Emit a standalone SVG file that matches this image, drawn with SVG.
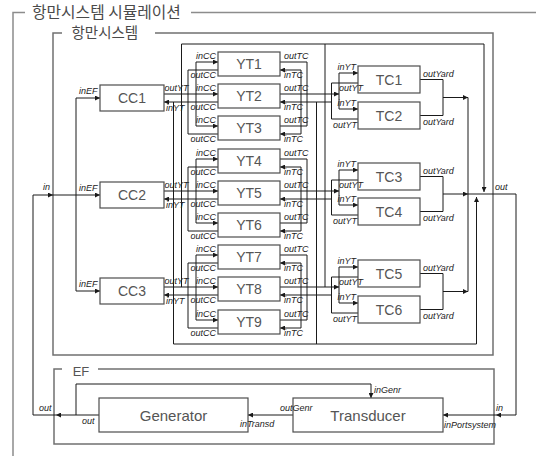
<svg xmlns="http://www.w3.org/2000/svg" width="536" height="456" viewBox="0 0 536 456">
<defs>
<marker id="ah" viewBox="0 0 6 6" refX="6" refY="3" markerWidth="6" markerHeight="5" orient="auto" markerUnits="userSpaceOnUse"><path d="M0,0L6,3L0,6z" fill="#1a1a1a"/></marker>
</defs>
<style>
.fr{fill:none;stroke:#8c8c8c;stroke-width:1.5}
.fi{fill:none;stroke:#707070;stroke-width:1.5}
.w{fill:none;stroke:#1a1a1a;stroke-width:1}
.a{fill:none;stroke:#1a1a1a;stroke-width:1;marker-end:url(#ah)}
.bx{fill:#fff;stroke:#4d4d4d;stroke-width:1.2}
.nt{font-family:"Liberation Sans",Arial,sans-serif;font-size:14px;fill:#555;text-anchor:middle}
.bt{font-size:15px}
.pl{font-family:"Liberation Sans",Arial,sans-serif;font-size:9px;font-style:italic;fill:#222}
.e{text-anchor:end}
.tt{font-family:"Noto Sans CJK KR","Noto Sans",sans-serif;fill:#4a4a4a}
</style>
<rect width="536" height="456" fill="#fff"/>

<g id="frames">
<path class="fr" d="M25,12.5H13V456M191,12.5H536"/>
<text class="tt" x="32" y="17.5" font-size="15.8">항만시스템 시뮬레이션</text>
<path class="fi" d="M62,33H53V355H493V33H155"/>
<text class="tt" x="71.5" y="37.5" font-size="14.5">항만시스템</text>
<path class="fi" d="M62,369H54V444H494V369H98"/>
<text class="nt" x="81" y="376" style="font-size:13px">EF</text>
</g>

<g id="connectors">
<path class="a" d="M33,415V195H53"/>
<path class="a" d="M53,195H100"/>
<path class="w" d="M76,98V291"/>
<path class="a" d="M76,98H100"/>
<path class="a" d="M76,291H100"/>
<path class="w" d="M196,62V126M188,70V134M218,70H188M218,134H188"/>
<path class="a" d="M196,62H218"/>
<path class="a" d="M196,126H218"/>
<path class="a" d="M164,94H218"/>
<path class="a" d="M218,102H164"/>
<path class="w" d="M196,159V223M188,167V231M218,167H188M218,231H188"/>
<path class="a" d="M196,159H218"/>
<path class="a" d="M196,223H218"/>
<path class="a" d="M164,191H218"/>
<path class="a" d="M218,199H164"/>
<path class="w" d="M196,255V320M188,263V328M218,263H188M218,328H188"/>
<path class="a" d="M196,255H218"/>
<path class="a" d="M196,320H218"/>
<path class="a" d="M164,287H218"/>
<path class="a" d="M218,295H164"/>
<path class="w" d="M307,62V126M280,62H307M280,126H307M301,70V134"/>
<path class="a" d="M280,94H339"/>
<path class="a" d="M301,70H280"/>
<path class="a" d="M301,134H280"/>
<path class="a" d="M331.5,102H280"/>
<path class="w" d="M307,159V223M280,159H307M280,223H307M301,167V231"/>
<path class="a" d="M280,191H339"/>
<path class="a" d="M301,167H280"/>
<path class="a" d="M301,231H280"/>
<path class="a" d="M331.5,199H280"/>
<path class="w" d="M307,255V320M280,255H307M280,320H307M301,263V328"/>
<path class="a" d="M280,287H339"/>
<path class="a" d="M301,263H280"/>
<path class="a" d="M301,328H280"/>
<path class="a" d="M331.5,295H280"/>
<path class="w" d="M339,73V109M331.5,83V119M358,83H331.5M358,119H331.5M420,79.5H443V115.5H420"/>
<path class="a" d="M339,73H358"/>
<path class="a" d="M339,109H358"/>
<path class="a" d="M443,97.5H468"/>
<path class="w" d="M339,170V205M331.5,180V215M358,180H331.5M358,215H331.5M420,176.5H443V211.5H420"/>
<path class="a" d="M339,170H358"/>
<path class="a" d="M339,205H358"/>
<path class="a" d="M443,194H468"/>
<path class="w" d="M339,267V303M331.5,277V313M358,277H331.5M358,313H331.5M420,273.5H443V309.5H420"/>
<path class="a" d="M339,267H358"/>
<path class="a" d="M339,303H358"/>
<path class="a" d="M443,291.5H468"/>
<path class="w" d="M468,97.5V291.5"/>
<path class="a" d="M468,194H516V415H496"/>
<path class="a" d="M496,415H443"/>
<path class="a" d="M181.5,287V44H484V192"/>
<path class="w" d="M325,44V287"/>
<path class="a" d="M173.5,102V344H476.5V197"/>
<path class="w" d="M316.5,102V344"/>
<path class="a" d="M99,415H56"/>
<path class="w" d="M56,415H33"/>
<path class="a" d="M76,415V384H371V398"/>
<path class="a" d="M293,415H248"/>
</g>

<g id="cc1">
<rect class="bx" x="100" y="85" width="64" height="26"/>
<text class="nt" x="132" y="103">CC1</text>
<text class="pl" x="79" y="94">inEF</text>
<text class="pl" x="164.5" y="91">outYT</text>
<text class="pl" x="166" y="111">inYT</text>
</g>
<g id="cc2">
<rect class="bx" x="100" y="182" width="64" height="26"/>
<text class="nt" x="132" y="200">CC2</text>
<text class="pl" x="79" y="191">inEF</text>
<text class="pl" x="164.5" y="188">outYT</text>
<text class="pl" x="166" y="208">inYT</text>
<text class="pl" x="43" y="190">in</text>
</g>
<g id="cc3">
<rect class="bx" x="100" y="278" width="64" height="26"/>
<text class="nt" x="132" y="296">CC3</text>
<text class="pl" x="79" y="287">inEF</text>
<text class="pl" x="164.5" y="284">outYT</text>
<text class="pl" x="166" y="304">inYT</text>
</g>

<g id="yt1"><rect class="bx" x="218" y="52" width="62" height="24"/><text class="nt" x="249" y="69">YT1</text>
<text class="pl e" x="216" y="59">inCC</text><text class="pl e" x="216" y="78">outCC</text><text class="pl" x="284" y="59">outTC</text><text class="pl" x="284" y="78">inTC</text></g>
<g id="yt2"><rect class="bx" x="218" y="84" width="62" height="24"/><text class="nt" x="249" y="101">YT2</text>
<text class="pl e" x="216" y="91">inCC</text><text class="pl e" x="216" y="110">outCC</text><text class="pl" x="284" y="91">outTC</text><text class="pl" x="284" y="110">inTC</text></g>
<g id="yt3"><rect class="bx" x="218" y="116" width="62" height="24"/><text class="nt" x="249" y="133">YT3</text>
<text class="pl e" x="216" y="123">inCC</text><text class="pl e" x="216" y="142">outCC</text><text class="pl" x="284" y="123">outTC</text><text class="pl" x="284" y="142">inTC</text></g>
<g id="yt4"><rect class="bx" x="218" y="149" width="62" height="24"/><text class="nt" x="249" y="166">YT4</text>
<text class="pl e" x="216" y="156">inCC</text><text class="pl e" x="216" y="175">outCC</text><text class="pl" x="284" y="156">outTC</text><text class="pl" x="284" y="175">inTC</text></g>
<g id="yt5"><rect class="bx" x="218" y="181" width="62" height="24"/><text class="nt" x="249" y="198">YT5</text>
<text class="pl e" x="216" y="188">inCC</text><text class="pl e" x="216" y="207">outCC</text><text class="pl" x="284" y="188">outTC</text><text class="pl" x="284" y="207">inTC</text></g>
<g id="yt6"><rect class="bx" x="218" y="213" width="62" height="24"/><text class="nt" x="249" y="230">YT6</text>
<text class="pl e" x="216" y="220">inCC</text><text class="pl e" x="216" y="239">outCC</text><text class="pl" x="284" y="220">outTC</text><text class="pl" x="284" y="239">inTC</text></g>
<g id="yt7"><rect class="bx" x="218" y="245" width="62" height="24"/><text class="nt" x="249" y="262">YT7</text>
<text class="pl e" x="216" y="252">inCC</text><text class="pl e" x="216" y="271">outCC</text><text class="pl" x="284" y="252">outTC</text><text class="pl" x="284" y="271">inTC</text></g>
<g id="yt8"><rect class="bx" x="218" y="277" width="62" height="24"/><text class="nt" x="249" y="294">YT8</text>
<text class="pl e" x="216" y="284">inCC</text><text class="pl e" x="216" y="303">outCC</text><text class="pl" x="284" y="284">outTC</text><text class="pl" x="284" y="303">inTC</text></g>
<g id="yt9"><rect class="bx" x="218" y="310" width="62" height="24"/><text class="nt" x="249" y="327">YT9</text>
<text class="pl e" x="216" y="317">inCC</text><text class="pl e" x="216" y="336">outCC</text><text class="pl" x="284" y="317">outTC</text><text class="pl" x="284" y="336">inTC</text></g>

<g id="tc1"><rect class="bx" x="358" y="66" width="62" height="27"/><text class="nt" x="389" y="84.5">TC1</text>
<text class="pl e" x="356" y="70">inYT</text><text class="pl" x="339" y="91">outYT</text><text class="pl" x="423" y="76.5">outYard</text></g>
<g id="tc2"><rect class="bx" x="358" y="102" width="62" height="27"/><text class="nt" x="389" y="120.5">TC2</text>
<text class="pl e" x="356" y="106">inYT</text><text class="pl e" x="357" y="128">outYT</text><text class="pl" x="423" y="124.5">outYard</text></g>
<g id="tc3"><rect class="bx" x="358" y="163" width="62" height="27"/><text class="nt" x="389" y="181.5">TC3</text>
<text class="pl e" x="356" y="167">inYT</text><text class="pl" x="339" y="188">outYT</text><text class="pl" x="423" y="173.5">outYard</text></g>
<g id="tc4"><rect class="bx" x="358" y="198" width="62" height="27"/><text class="nt" x="389" y="216.5">TC4</text>
<text class="pl e" x="356" y="202">inYT</text><text class="pl e" x="357" y="224">outYT</text><text class="pl" x="423" y="220.5">outYard</text></g>
<g id="tc5"><rect class="bx" x="358" y="260" width="62" height="27"/><text class="nt" x="389" y="278.5">TC5</text>
<text class="pl e" x="356" y="264">inYT</text><text class="pl" x="339" y="285">outYT</text><text class="pl" x="423" y="270.5">outYard</text></g>
<g id="tc6"><rect class="bx" x="358" y="296" width="62" height="27"/><text class="nt" x="389" y="314.5">TC6</text>
<text class="pl e" x="356" y="300">inYT</text><text class="pl e" x="357" y="322">outYT</text><text class="pl" x="423" y="318.5">outYard</text></g>

<g id="sysout"><text class="pl" x="495" y="190">out</text></g>

<g id="generator">
<rect class="bx" x="99" y="398" width="149" height="34"/>
<text class="nt bt" x="173.5" y="420.5">Generator</text>
<text class="pl" x="82" y="424">out</text>
<text class="pl" x="39" y="411">out</text>
<text class="pl" x="240" y="427">inTransd</text>
</g>
<g id="transducer">
<rect class="bx" x="293" y="398" width="150" height="34"/>
<text class="nt bt" x="368" y="420.5">Transducer</text>
<text class="pl" x="280" y="411">outGenr</text>
<text class="pl" x="374" y="393">inGenr</text>
<text class="pl" x="444" y="428">inPortsystem</text>
<text class="pl" x="496" y="411">in</text>
</g>
</svg>
